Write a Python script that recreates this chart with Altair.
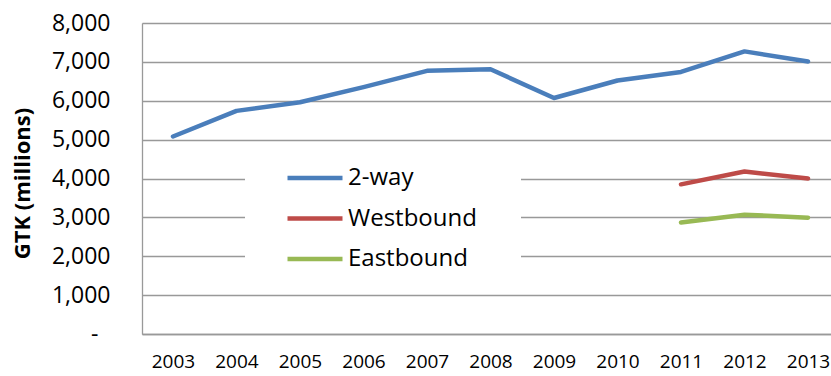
import altair as alt
import pandas as pd

# Gross tonne-kilometres (millions) by year and direction
years = [2003, 2004, 2005, 2006, 2007, 2008, 2009, 2010, 2011, 2012, 2013]
two_way = [5080, 5740, 5960, 6350, 6770, 6810, 6070, 6520, 6740, 7270, 7010]
dir_years = [2011, 2012, 2013]
westbound = [3850, 4180, 4000]
eastbound = [2870, 3070, 2990]

series = ["2-way", "Westbound", "Eastbound"]
colors = ["#4A7EBB", "#BE4B48", "#98B954"]
y_ticks = [0, 1000, 2000, 3000, 4000, 5000, 6000, 7000, 8000]

rows = []
for name, xs, vals in [
    ("2-way", years, two_way),
    ("Westbound", dir_years, westbound),
    ("Eastbound", dir_years, eastbound),
]:
    for yr, v in zip(xs, vals):
        rows.append({"year": yr, "gtk": v, "series": name})
df = pd.DataFrame(rows)

FONT = "Open Sans"
GRID = "#999999"
NBSP = "\u00a0"

chart = (
    alt.Chart(df)
    .mark_line(strokeWidth=4.5, strokeCap="round", strokeJoin="round")
    .encode(
        x=alt.X(
            "year:Q",
            scale=alt.Scale(domain=[2002.512, 2013.362], nice=False, zero=False),
            axis=alt.Axis(
                values=years,
                format="d",
                title=None,
                grid=False,
                ticks=False,
                labelFontSize=19,
                labelPadding=18,
                labelFont=FONT,
                labelColor="#000000",
                domainColor=GRID,
                domainWidth=1.3,
            ),
        ),
        y=alt.Y(
            "gtk:Q",
            scale=alt.Scale(domain=[0, 8000], nice=False),
            axis=alt.Axis(
                values=y_ticks,
                title="GTK (millions)",
                titleFont=FONT,
                titleFontSize=22,
                titleFontWeight="bold",
                titleColor="#000000",
                titleAngle=270,
                titleAlign="center",
                titleBaseline="middle",
                titleX=-120,
                titleY=160,
                # accounting-style dash for zero, set a little further left
                labelExpr="datum.value == 0 ? '-' : format(datum.value, ',')",
                labelPadding={"condition": {"test": "datum.value == 0", "value": 44}, "value": 32},
                labelFont=FONT,
                labelFontSize=23,
                labelColor="#000000",
                ticks=False,
                grid=True,
                gridColor=GRID,
                gridWidth=1.3,
                domainColor=GRID,
                domainWidth=1.3,
            ),
        ),
        color=alt.Color(
            "series:N",
            scale=alt.Scale(domain=series, range=colors),
            sort=series,
            legend=alt.Legend(
                # blank title on the right only widens the white legend box
                title=NBSP,
                titleOrient="right",
                titlePadding=34,
                titleFontSize=10,
                orient="none",
                legendX=103,
                legendY=133,
                fillColor="white",
                padding=10,
                # a wide horizontal stroke drawn from a small nominal symbol size
                symbolType="M-5,0H5",
                symbolSize=121,
                symbolStrokeWidth=4.5,
                symbolOffset=48,
                labelFont=FONT,
                labelFontSize=24,
                labelColor="#000000",
                labelOffset=21,
                labelLimit=400,
                rowPadding=16.5,
            ),
        ),
    )
    .properties(
        width=689,
        height=311,
        autosize=alt.AutoSizeParams(type="none"),
        padding={"left": 142, "top": 23, "right": 0, "bottom": 42},
    )
    .configure_view(stroke=None)
    .configure(background="white")
)

chart.save("out.html", embed_options={"renderer": "svg", "actions": False})
